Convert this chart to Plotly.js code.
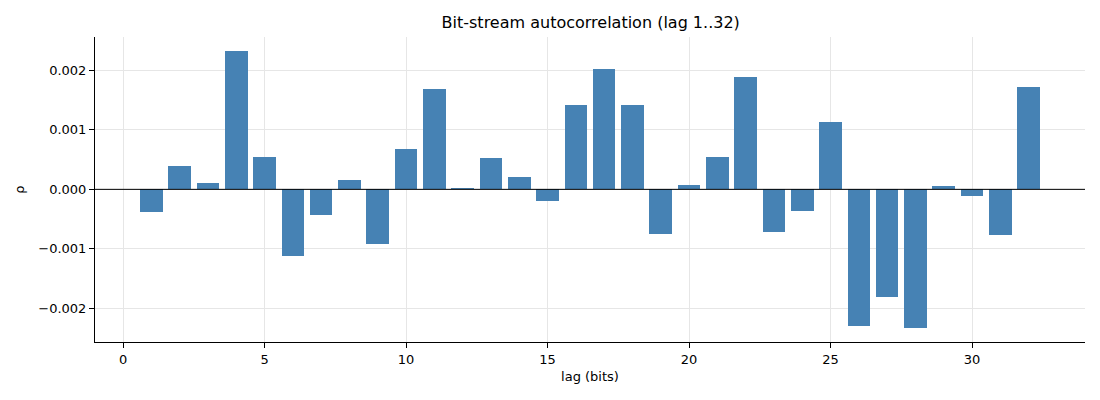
<!DOCTYPE html>
<html>
<head>
<meta charset="utf-8">
<script src="https://cdn.plot.ly/plotly-3.0.1.min.js"></script>
<style>html,body{margin:0;padding:0;background:#fff;}#chart{width:1100px;height:400px;}</style>
</head>
<body>
<div id="chart"></div>
<script>
const lags = [1,2,3,4,5,6,7,8,9,10,11,12,13,14,15,16,17,18,19,20,21,22,23,24,25,26,27,28,29,30,31,32];
const rho = [
  -0.00038, 0.00039, 0.000105, 0.002325, 0.000543, -0.00112, -0.00043, 0.000157,
  -0.00092, 0.000678, 0.001686, 0.000022, 0.000527, 0.000207, -0.000196, 0.001417,
  0.002022, 0.001417, -0.000745, 0.000073, 0.000543, 0.001888, -0.000717, -0.000364,
  0.001132, -0.002297, -0.00181, -0.00233, 0.000056, -0.000112, -0.000768, 0.00172
];
const titleText = 'Bit-stream autocorrelation (lag 1..32)';
const xLabel = 'lag (bits)';
const yLabel = 'ρ';

const font = 'DejaVu Sans, sans-serif';
const trace = {
  type: 'bar', x: lags, y: rho, width: 0.8,
  marker: {color: '#4682b4', line: {width: 0}},
  hoverinfo: 'x+y'
};
const layout = {
  width: 1100, height: 400,
  margin: {l: 95, r: 15, t: 37, b: 58},
  paper_bgcolor: '#fff', plot_bgcolor: '#fff',
  font: {family: font, size: 13, color: '#000'},
  title: {text: titleText, font: {family: font, size: 16, color: '#000'}, x: 0.537, xanchor: 'center', y: 0.943, yanchor: 'middle'},
  showlegend: false,
  bargap: 0,
  xaxis: {
    range: [-0.99, 33.99], dtick: 5, tick0: 0,
    showgrid: true, gridcolor: '#e6e6e6', gridwidth: 1,
    zeroline: false, showline: true, linecolor: '#000', linewidth: 1,
    ticks: 'outside', ticklen: 5, tickcolor: '#000', tickwidth: 1,
    tickfont: {family: font, size: 13, color: '#000'},
    title: {text: xLabel, font: {family: font, size: 13, color: '#000'}, standoff: 6}
  },
  yaxis: {
    range: [-0.002563, 0.002558], dtick: 0.001, tick0: 0, tickformat: '.3f',
    showgrid: true, gridcolor: '#e6e6e6', gridwidth: 1,
    zeroline: false, showline: true, linecolor: '#000', linewidth: 1,
    ticks: 'outside', ticklen: 5, tickcolor: '#000', tickwidth: 1,
    tickfont: {family: font, size: 13, color: '#000'},
    title: {text: yLabel, font: {family: font, size: 13, color: '#000'}, standoff: 10}
  },
  shapes: [{type: 'line', xref: 'paper', x0: 0, x1: 1, yref: 'y', y0: 0, y1: 0,
            line: {color: '#000', width: 1}, layer: 'above'}]
};
Plotly.newPlot('chart', [trace], layout, {displayModeBar: false, staticPlot: true});
</script>
</body>
</html>
